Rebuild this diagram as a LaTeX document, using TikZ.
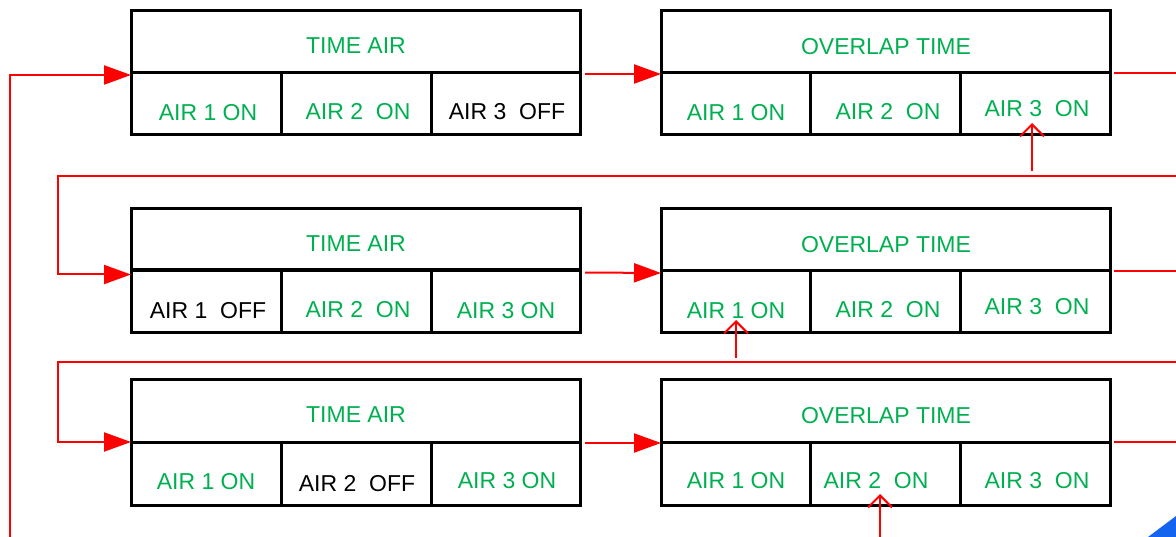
\documentclass[tikz,border=0pt]{standalone}
\usepackage{fontspec}
\setmainfont{Liberation Sans}
\usetikzlibrary{arrows.meta}
\definecolor{ongreen}{RGB}{0,176,80}
\definecolor{flowred}{RGB}{255,0,0}
\definecolor{cornerblue}{RGB}{20,100,240}
\begin{document}
\begin{tikzpicture}[x=1pt,y=-1pt,
  cellbox/.style={draw=black,line width=3pt,outer sep=0pt,inner sep=0pt,minimum height=62pt},
  lbl/.style={inner sep=0pt,font=\fontsize{23}{27}\selectfont},
  onlbl/.style={lbl,text=ongreen},
  offlbl/.style={lbl,text=black},
  redline/.style={draw=flowred,line width=2pt},
  flowarrow/.style={redline,-{Triangle[length=27pt,width=19pt]}},
  uparrow/.style={redline,-{Straight Barb[length=12pt,width=24pt]}}
]
\useasboundingbox (0,0) rectangle (1176,537);

% ---------- Row 1 ----------
\node[cellbox,minimum width=449pt] (L1h) at (355.5,42) {};
\node[cellbox,minimum width=150pt] (L1a) at (206,104) {};
\node[cellbox,minimum width=150pt] (L1b) at (356,104) {};
\node[cellbox,minimum width=149pt] (L1c) at (505.5,104) {};
\node[cellbox,minimum width=449pt] (R1h) at (885.5,42) {};
\node[cellbox,minimum width=149pt] (R1a) at (735.5,104) {};
\node[cellbox,minimum width=150pt] (R1b) at (885,104) {};
\node[cellbox,minimum width=150pt] (R1c) at (1035,104) {};
\node[onlbl] (tL1h) at (356,46) {TIME AIR};
\node[onlbl] (tL1a) at (208,113) {AIR 1 ON};
\node[onlbl] (tL1b) at (358,112) {AIR 2\ \ ON};
\node[offlbl] (tL1c) at (507,112) {AIR 3\ \ OFF};
\node[onlbl] (tR1h) at (886,47) {OVERLAP TIME};
\node[onlbl] (tR1a) at (736,113) {AIR 1 ON};
\node[onlbl] (tR1b) at (888,112) {AIR 2\ \ ON};
\node[onlbl] (tR1c) at (1037,109) {AIR 3\ \ ON};

% ---------- Row 2 ----------
\node[cellbox,minimum width=449pt] (L2h) at (355.5,239.5) {};
\node[cellbox,minimum width=150pt,minimum height=63pt] (L2a) at (206,301.5) {};
\node[cellbox,minimum width=150pt,minimum height=63pt] (L2b) at (356,301.5) {};
\node[cellbox,minimum width=149pt,minimum height=63pt] (L2c) at (505.5,301.5) {};
\node[cellbox,minimum width=449pt] (R2h) at (885.5,240) {};
\node[cellbox,minimum width=149pt] (R2a) at (735.5,302) {};
\node[cellbox,minimum width=150pt] (R2b) at (885,302) {};
\node[cellbox,minimum width=150pt] (R2c) at (1035,302) {};
\node[onlbl] (tL2h) at (356,244) {TIME AIR};
\node[offlbl] (tL2a) at (208,311) {AIR 1\ \ OFF};
\node[onlbl] (tL2b) at (358,310) {AIR 2\ \ ON};
\node[onlbl] (tL2c) at (506,311) {AIR 3 ON};
\node[onlbl] (tR2h) at (886,245) {OVERLAP TIME};
\node[onlbl] (tR2a) at (736,311) {AIR 1 ON};
\node[onlbl] (tR2b) at (888,310) {AIR 2\ \ ON};
\node[onlbl] (tR2c) at (1037,307) {AIR 3\ \ ON};

% ---------- Row 3 ----------
\node[cellbox,minimum width=449pt] (L3h) at (355.5,411) {};
\node[cellbox,minimum width=150pt,minimum height=63pt] (L3a) at (206,473.5) {};
\node[cellbox,minimum width=150pt,minimum height=63pt] (L3b) at (356,473.5) {};
\node[cellbox,minimum width=149pt,minimum height=63pt] (L3c) at (505.5,473.5) {};
\node[cellbox,minimum width=449pt] (R3h) at (885.5,411) {};
\node[cellbox,minimum width=149pt,minimum height=63pt] (R3a) at (735.5,473.5) {};
\node[cellbox,minimum width=150pt,minimum height=63pt] (R3b) at (885,473.5) {};
\node[cellbox,minimum width=150pt,minimum height=63pt] (R3c) at (1035,473.5) {};
\node[onlbl] (tL3h) at (356,415) {TIME AIR};
\node[onlbl] (tL3a) at (206,482) {AIR 1 ON};
\node[offlbl] (tL3b) at (357,484) {AIR 2\ \ OFF};
\node[onlbl] (tL3c) at (507,481) {AIR 3 ON};
\node[onlbl] (tR3h) at (886,416) {OVERLAP TIME};
\node[onlbl] (tR3a) at (736,481) {AIR 1 ON};
\node[onlbl] (tR3b) at (876,481) {AIR 2\ \ ON};
\node[onlbl] (tR3c) at (1037,481) {AIR 3\ \ ON};

% ---------- coordinates ----------
\coordinate (bl) at (10,537);
\coordinate (e1) at (1176,176);
\coordinate (k1) at (58,176);
\coordinate (e2) at (1176,362);
\coordinate (k2) at (58,362);
\coordinate (x1) at (1176,73);
\coordinate (x2) at (1176,271);
\coordinate (x3) at (1176,442);
\coordinate (u1) at (1032,171);
\coordinate (v1) at (1032,123);
\coordinate (u2) at (736,358);
\coordinate (v2) at (736,320);
\coordinate (u3) at (880,537);
\coordinate (v3) at (880,494);

% ---------- connectors ----------
\draw[flowarrow] (bl) |- ([yshift=-2pt]L1h.south west);
\draw[flowarrow] (e1) -- (k1) |- ([yshift=-4pt]L2h.south west);
\draw[flowarrow] (e2) -- (k2) |- (L3h.south west);

\draw[flowarrow] ([xshift=5pt,yshift=-1pt]L1h.south east) -- ([yshift=-1pt]R1h.south west);
\draw[flowarrow] ([xshift=5pt,yshift=-2pt]L2h.south east) -- ([yshift=-2pt]R2h.south west);
\draw[flowarrow] ([xshift=5pt,yshift=-1pt]L3h.south east) -- ([yshift=-1pt]R3h.south west);

\draw[redline] ([xshift=4pt]R1h.south east) -- (x1);
\draw[redline] ([xshift=4pt]R2h.south east) -- (x2);
\draw[redline] ([xshift=4pt]R3h.south east) -- (x3);

\draw[uparrow] (u1) -- (v1);
\draw[uparrow] (u2) -- (v2);
\draw[uparrow] (u3) -- (v3);

\fill[cornerblue] (1148,537) -- (1176,537) -- (1176,516) -- cycle;
\end{tikzpicture}
\end{document}
